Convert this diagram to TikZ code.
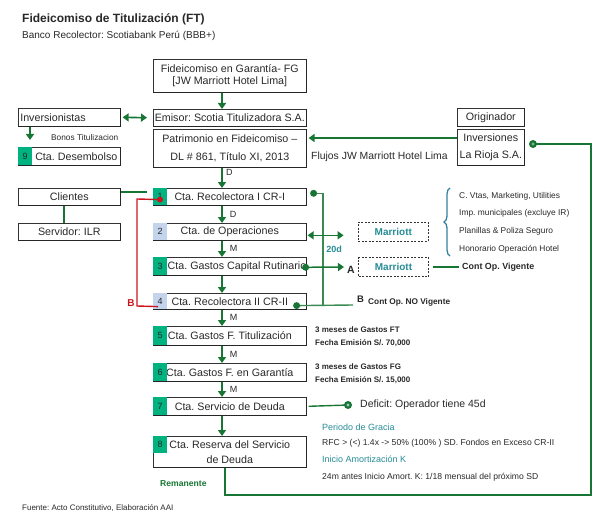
\documentclass[tikz,border=0pt]{standalone}
\usepackage{fontspec}
\setmainfont{Liberation Sans}
\usetikzlibrary{arrows.meta,decorations.pathreplacing,calc}
\definecolor{gline}{RGB}{24,118,52}
\definecolor{ngreen}{RGB}{0,178,128}
\definecolor{nblue}{RGB}{196,212,236}
\definecolor{tealt}{RGB}{38,140,150}
\definecolor{bracec}{RGB}{52,128,160}
\definecolor{redl}{RGB}{204,20,30}
\definecolor{txt}{RGB}{40,40,40}
\frenchspacing
\begin{document}
\begin{tikzpicture}[x=1pt,y=-1pt,
  bx/.style={draw=black!80, line width=0.6pt, anchor=north west, inner sep=0pt, align=center, text=txt, font=\fontsize{10.7}{12}\selectfont},
  mbox/.style={bx, minimum width=153pt},
  sbox/.style={bx, minimum width=102pt},
  nsq/.style={anchor=north west, minimum width=14pt, inner sep=0pt, text=txt, font=\fontsize{9}{10}\selectfont},
  garr/.style={draw=gline, line width=1.8pt, -{Triangle[width=8pt,length=6pt]}},
  gdarr/.style={draw=gline, line width=1.6pt, {Triangle[width=8pt,length=6pt]}-{Triangle[width=8pt,length=6pt]}},
  gl/.style={draw=gline, line width=1.4pt},
  lbl/.style={text=txt, font=\fontsize{9}{10}\selectfont, inner sep=0pt},
  sm/.style={text=txt, anchor=west, inner sep=0pt, font=\fontsize{8.4}{10}\selectfont},
  smb/.style={text=txt, anchor=west, inner sep=0pt, font=\fontsize{8}{10}\selectfont\bfseries},
  note/.style={text=txt, anchor=west, inner sep=0pt, font=\fontsize{8.6}{10}\selectfont},
  notet/.style={text=tealt, anchor=west, inner sep=0pt, font=\fontsize{9}{10}\selectfont},
  sheavy/.style={draw=black!85, line width=1.1pt},
  mdash/.style={bx, dash pattern=on 2pt off 1.5pt, minimum width=70pt, minimum height=19pt, text=tealt, font=\fontsize{10}{12}\selectfont\bfseries}
]
\useasboundingbox (0,0) rectangle (593,513);
\clip (0,0) rectangle (593,513);

% titles
\node[anchor=base west, inner sep=0pt, text=txt, font=\fontsize{12}{14}\selectfont\bfseries] (title) at (22,23) {Fideicomiso de Titulización (FT)};
\node[anchor=base west, inner sep=0pt, text=txt, font=\fontsize{10}{12}\selectfont] (sub) at (22,39) {Banco Recolector: Scotiabank Perú (BBB+)};

% top column
\node[mbox, minimum height=33pt, font=\fontsize{10.7}{12.5}\selectfont] (fg) at (153,59) {Fideicomiso en Garantía- FG\\{[JW Marriott Hotel Lima]}};
\node[mbox, minimum height=17pt] (em) at (153,109) {Emisor: Scotia Titulizadora S.A.};
\node[mbox, minimum height=38pt, font=\fontsize{10.7}{18}\selectfont] (pat) at (153,129) {Patrimonio en Fideicomiso –\\DL \# 861, Título XI, 2013};

% left boxes
\node[sbox, minimum height=18pt, text width=98pt, align=left, inner xsep=2pt] (invs) at (18,108) {Inversionistas};
\node[sbox, minimum height=18pt] (des) at (18,147) {\hspace*{14pt}Cta. Desembolso};
\node[nsq, fill=ngreen, minimum height=18pt] (n9) at (des.north west) {9};
\node[sbox, minimum height=17pt] (cli) at (18,188) {Clientes};
\node[sbox, minimum height=17pt] (srv) at (18,223) {Servidor: ILR};

% right boxes
\node[bx, minimum width=67pt, minimum height=18pt] (orig) at (457,108) {Originador};
\node[bx, minimum width=67pt, minimum height=36pt, font=\fontsize{10.7}{17}\selectfont] (inr) at (457,129) {Inversiones\\La Rioja S.A.};

% main accounts
\node[mbox, minimum height=17pt] (r1) at (153,188) {Cta. Recolectora I CR-I};
\node[nsq, fill=ngreen, minimum height=17pt] (n1) at (r1.north west) {1};
\node[mbox, minimum height=17pt] (r2) at (153,223) {Cta. de Operaciones};
\node[nsq, fill=nblue, minimum height=17pt] (n2) at (r2.north west) {2};
\node[mbox, minimum height=18pt] (r3) at (153,257) {};
\node[nsq, fill=ngreen, minimum height=18pt] (n3) at (r3.north west) {3};
\node[anchor=west, inner sep=0pt, text=txt, font=\fontsize{10.7}{12}\selectfont] (r3t) at ($(r3.west)+(14.5,0)$) {Cta. Gastos Capital Rutinario};
\node[mbox, minimum height=16pt] (r4) at (153,293) {Cta. Recolectora II CR-II};
\node[nsq, fill=nblue, minimum height=16pt] (n4) at (r4.north west) {4};
\node[mbox, minimum height=19pt] (r5) at (153,326) {Cta. Gastos F. Titulización};
\node[nsq, fill=ngreen, minimum height=19pt] (n5) at (r5.north west) {5};
\node[mbox, minimum height=18pt] (r6) at (153,363) {Cta. Gastos F. en Garantía};
\node[nsq, fill=ngreen, minimum height=18pt] (n6) at (r6.north west) {6};
\node[mbox, minimum height=18pt] (r7) at (153,397) {Cta. Servicio de Deuda};
\node[nsq, fill=ngreen, minimum height=18pt] (n7) at (r7.north west) {7};
\node[mbox, minimum height=31pt, font=\fontsize{10.7}{15}\selectfont] (r8) at (153,436) {Cta. Reserva del Servicio\\de Deuda};
\node[nsq, fill=ngreen, minimum height=17pt] (n8) at (r8.north west) {8};

\foreach \n in {fg,em,pat,invs,des,cli,srv,orig,inr,r1,r2,r3,r4,r5,r6,r7,r8}
  \draw[sheavy] (\n.south west) -- (\n.south east) -- (\n.north east);

% vertical arrows
\coordinate (ax) at (222,0);
\draw[garr] (fg.south -| ax) -- (em.north -| ax);
\draw[garr] (pat.south -| ax) -- (r1.north -| ax);
\node[lbl, anchor=west] (dtop) at (226,172) {D};
\draw[garr] (r1.south -| ax) -- node[lbl, right=7pt] {D} (r2.north -| ax);
\draw[garr] (r2.south -| ax) -- node[lbl, right=7pt] {M} (r3.north -| ax);
\draw[garr] (r3.south -| ax) -- (r4.north -| ax);
\draw[garr] (r4.south -| ax) -- node[lbl, right=7pt] {M} (r5.north -| ax);
\draw[garr] (r5.south -| ax) -- node[lbl, right=7pt] {M} (r6.north -| ax);
\draw[garr] (r6.south -| ax) -- node[lbl, right=7pt] {M} (r7.north -| ax);
\draw[garr] (r7.south -| ax) -- (r8.north -| ax);

% investors
\draw[garr, shorten >=7pt] (invs.south -| 30,0) -- (des.north -| 30,0);
\node[sm, font=\fontsize{8.3}{10}\selectfont] (bonos) at (51,138) {Bonos Titulizacion};
\draw[gdarr, shorten <=2pt, shorten >=6pt] (invs.east) -- (em.west);

% flows from originator
\draw[garr, line width=1.5pt, shorten >=2pt] (inr.west |- 0,138) -- (pat.east |- 0,138);
\node[anchor=west, inner sep=0pt, text=txt, font=\fontsize{10.4}{12}\selectfont] (flu) at (311,157) {Flujos JW Marriott Hotel Lima};

% remanente loop
\coordinate (dI) at (533,144);
\draw[gl] (r8.south -| 225,0) -- (225,495) -- (591,495) -- (591,144) -- (dI);
\fill[gline] (dI) circle[radius=4pt];
\fill[gline!55!white] (dI) circle[radius=1.6pt];
\node[anchor=west, inner sep=0pt, text=gline, font=\fontsize{8.6}{10}\selectfont\bfseries] (rem) at (160,484) {Remanente};

% clients
\draw[gl, shorten >=6pt] (cli.east |- 0,192) -- (r1.west |- 0,192);
\draw[gl] (cli.south -| 64,0) -- (srv.north -| 64,0);

% red connector
\coordinate (rd) at ($(r1.south west)+(7,-6)$);
\coordinate (re) at ($(r4.south west)+(5,-3)$);
\draw[redl, line width=1.4pt] (rd) -- (137,199) -- (137,306) -- (re);
\fill[redl] (rd) circle[radius=3pt];
\node[text=redl, font=\fontsize{10}{12}\selectfont\bfseries, inner sep=0pt] (bB) at (131,303) {B};

% right green connector CR-I / CR-II
\coordinate (d1) at ($(r1.east)+(7,-3.5)$);
\coordinate (d4) at ($(r4.south east)+(-10,-4)$);
\draw[gl, gline!85!white] (d1) -| (323,305);
\draw[gl, gline!85!white] (d4) -- (353,305);
\fill[gline] (d1) circle[radius=3.5pt];
\fill[gline] (d4) circle[radius=3.5pt];
\node[anchor=west, inner sep=0pt, text=txt, font=\fontsize{9.5}{11}\selectfont\bfseries] (bB2) at (357,299) {B};
\node[smb, font=\fontsize{8.3}{10}\selectfont\bfseries] (nov) at (368,302) {Cont Op. NO Vigente};

% row 2 double arrow
\draw[gdarr] ($(r2.east)+(1,3.5)$) -- ++(36,0);
\node[text=tealt, font=\fontsize{9}{10}\selectfont\bfseries, inner sep=0pt] (d20) at (334,249) {20d};

% row 3 arrow
\coordinate (d3) at ($(r3.east)+(-1,1)$);
\draw[garr, line width=1.5pt] (d3) -- (344,267);
\fill[gline] (d3) circle[radius=3.5pt];
\node[text=txt, font=\fontsize{10.5}{12}\selectfont\bfseries, inner sep=0pt] (lA) at (351,270) {A};

% Marriott boxes
\node[mdash] (m1) at (358,222) {Marriott};
\node[mdash, line width=1pt] (m2) at (358,257) {Marriott};
\draw[gl, shorten <=4pt] (m2.east) -- ++(30,0) coordinate (cv);
\node[anchor=west, inner sep=0pt, text=txt, font=\fontsize{8.9}{10}\selectfont\bfseries] (cov) at ($(cv)+(3,0)$) {Cont Op. Vigente};

% brace and items
\draw[bracec, line width=1.3pt, decorate, decoration={brace, amplitude=6pt}] (450,256) -- (450,188);
\node[sm] (b1) at (459,196) {C. Vtas, Marketing, Utilities};
\node[sm] (b2) at (459,213) {Imp. municipales (excluye IR)};
\node[sm] (b3) at (459,231) {Planillas \& Poliza Seguro};
\node[sm] (b4) at (459,249) {Honorario Operación Hotel};

% notes rows 5 and 6
\node[smb] (g1) at (315,330) {3 meses de Gastos FT};
\node[smb] (g2) at (315,343) {Fecha Emisión S/. 70,000};
\node[smb] (g3) at (315,367) {3 meses de Gastos FG};
\node[smb] (g4) at (315,380) {Fecha Emisión S/. 15,000};

% deficit
\coordinate (dd) at (348,405);
\draw[gl] ($(r7.east)+(2,0)$) -- (dd);
\fill[gline] (dd) circle[radius=4pt];
\fill[tealt!45!white] (dd) circle[radius=1.6pt];
\node[anchor=west, inner sep=0pt, text=txt, font=\fontsize{10.5}{12}\selectfont] (def) at (360,405) {Deficit: Operador tiene 45d};

% grace period notes
\node[notet] (p1) at (322,427) {Periodo de Gracia};
\node[note] (p2) at (322,443) {RFC > (<) 1.4x -> 50\%  (100\% ) SD. Fondos en Exceso CR-II};
\node[notet] (p3) at (322,459) {Inicio Amortización K};
\node[note] (p4) at (322,477) {24m antes Inicio Amort. K: 1/18 mensual del próximo SD};

% source
\node[anchor=base west, inner sep=0pt, text=txt, font=\fontsize{8}{10}\selectfont] (src) at (22,510.5) {Fuente: Acto Constitutivo, Elaboración AAI};
\end{tikzpicture}
\end{document}
